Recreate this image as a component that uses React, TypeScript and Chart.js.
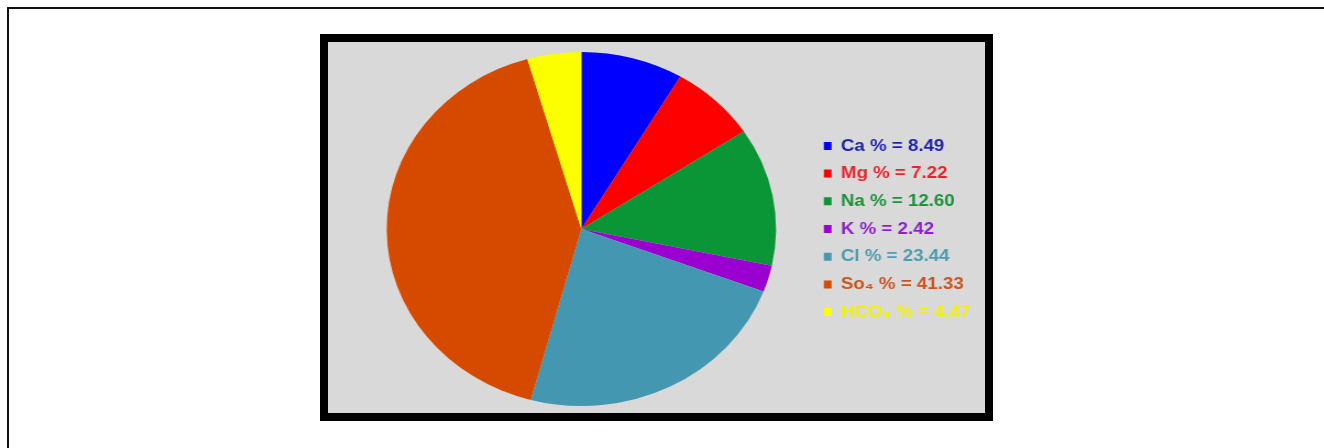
import React, { useEffect, useRef } from "react";
import { Chart, registerables } from "chart.js";

Chart.register(...registerables);

const ions = ["Ca", "Mg", "Na", "K", "Cl", "So₄", "HCO₃"];
const percents = [8.49, 7.22, 12.6, 2.42, 23.44, 41.33, 4.47];
const sliceColors = ["#0000fe", "#fe0000", "#0a9636", "#9a00d0", "#4497b0", "#d64a00", "#fbff00"];
const textColors = ["#1f24a8", "#e8232b", "#1b9237", "#8d1fcf", "#4a9db0", "#c9541c", "#f2f200"];

const legendLabels = ions.map((n, i) => `${n} % = ${percents[i].toFixed(2)}`);

export default function App() {
  const ref = useRef<HTMLCanvasElement>(null);

  useEffect(() => {
    const canvas = ref.current;
    if (!canvas) return;
    const chart = new Chart(canvas, {
      type: "pie",
      data: {
        labels: legendLabels,
        datasets: [
          {
            data: percents,
            backgroundColor: sliceColors,
            borderWidth: 0,
            radius: 177,
          } as any,
        ],
      },
      options: {
        responsive: false,
        animation: false,
        events: [],
        layout: { padding: { left: 20.6, top: 3, right: 2.8, bottom: 0 } },
        plugins: {
          tooltip: { enabled: false },
          legend: {
            position: "right",
            align: "center",
            labels: {
              boxWidth: 7,
              boxHeight: 8,
              padding: 10.7,
              font: { family: "'Liberation Sans', Arial, 'DejaVu Sans', sans-serif", size: 17, weight: "bold" },
              generateLabels: (c: any) => {
                const base = (Chart as any).overrides.pie.plugins.legend.labels.generateLabels(c);
                return base.map((item: any, i: number) => ({
                  ...item,
                  fontColor: textColors[i],
                  lineWidth: 0,
                  strokeStyle: "transparent",
                }));
              },
            },
          },
        },
      },
    });
    return () => chart.destroy();
  }, []);

  return (
    <div>
      <div style={{ position: "absolute", left: 7, top: 7, width: 1317, height: 2, background: "#111" }} />
      <div style={{ position: "absolute", left: 7, top: 7, width: 2, height: 441, background: "#111" }} />
      <div
        style={{
          position: "absolute",
          left: 320,
          top: 34,
          width: 657,
          height: 371,
          border: "8px solid #000",
          background: "#d9d9d9",
        }}
      >
        <canvas
          ref={ref}
          width={597}
          height={371}
          style={{
            position: "absolute",
            left: 0,
            top: 0,
            width: 597,
            height: 371,
            transform: "scaleX(1.1)",
            transformOrigin: "left top",
          }}
        />
      </div>
    </div>
  );
}
